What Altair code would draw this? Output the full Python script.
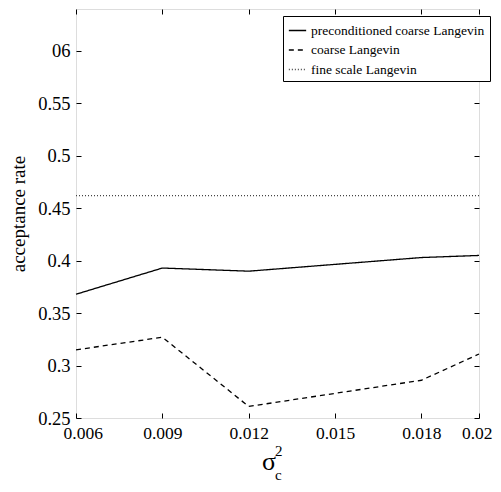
import altair as alt
import pandas as pd

x_vals = [0.006, 0.009, 0.012, 0.018, 0.02]
precond = [0.368, 0.393, 0.390, 0.403, 0.405]
coarse = [0.315, 0.327, 0.261, 0.286, 0.311]
fine = [0.462, 0.462, 0.462, 0.462, 0.462]
series_names = ["preconditioned coarse Langevin", "coarse Langevin", "fine scale Langevin"]
x_ticks = [0.006, 0.009, 0.012, 0.015, 0.018, 0.02]
y_ticks = [0.25, 0.3, 0.35, 0.4, 0.45, 0.5, 0.55, 0.6]

rows = []
for name, vals in zip(series_names, [precond, coarse, fine]):
    for xv, yv in zip(x_vals, vals):
        rows.append({"x": xv, "y": yv, "series": name})
df = pd.DataFrame(rows)

FONT = "'Liberation Serif', 'Times New Roman', 'DejaVu Serif', serif"
W, H = 403, 409

xs = alt.Scale(domain=[0.006, 0.02], nice=False, zero=False)
ys = alt.Scale(domain=[0.25, 0.64], nice=False, zero=False)

legend = alt.Legend(
    title=None, orient="none", legendX=207, legendY=7,
    symbolType="stroke", symbolSize=300, symbolStrokeWidth=1.3,
    labelFont=FONT, labelFontSize=13.5, labelColor="black", labelLimit=300,
    labelOffset=4, rowPadding=3.5, padding=5,
    strokeColor="black", fillColor="white", cornerRadius=0,
)

lines = alt.Chart(df).mark_line(strokeWidth=1.3).encode(
    x=alt.X("x:Q", scale=xs, axis=alt.Axis(
        values=x_ticks, format="~g", title=None, domain=False, grid=False,
        offset=-5, tickSize=5, tickColor="black", tickWidth=1,
        labelFont=FONT, labelFontSize=17.5, labelColor="black",
        labelPadding=6, labelFlush=True, labelFlushOffset=13)),
    y=alt.Y("y:Q", scale=ys, axis=alt.Axis(
        values=y_ticks, title="acceptance rate", domain=False, grid=False,
        labelExpr="datum.value == 0.6 ? '06' : format(datum.value, '~g')",
        offset=-5, tickSize=5, tickColor="black", tickWidth=1,
        labelFont=FONT, labelFontSize=18.5, labelColor="black",
        labelPadding=6, titleFont=FONT, titleFontSize=19,
        titleFontWeight="normal", titleColor="black", titlePadding=9)),
    color=alt.Color("series:N", sort=series_names,
                    scale=alt.Scale(domain=series_names, range=["black", "black", "#444"]),
                    legend=legend),
    strokeDash=alt.StrokeDash("series:N", sort=series_names,
                              scale=alt.Scale(domain=series_names, range=[[1, 0], [5, 4], [1, 2]]),
                              legend=legend),
    order=alt.Order("x:Q"),
)

sec = alt.Chart(df).mark_point(opacity=0).encode(
    x=alt.X("x:Q", scale=xs, axis=alt.Axis(
        orient="top", values=x_ticks, labels=False, title=None, domain=False,
        grid=False, offset=-5, tickSize=5, tickColor="black")),
    y=alt.Y("y:Q", scale=ys, axis=alt.Axis(
        orient="right", values=y_ticks, labels=False, title=None, domain=False,
        grid=False, offset=-5, tickSize=5, tickColor="black")),
)

sig = alt.Chart(pd.DataFrame({"t": ["σ"]})).mark_text(
    font=FONT, fontSize=26, align="left", baseline="alphabetic", color="black"
).encode(x=alt.value(186), y=alt.value(461), text="t:N")
sup = alt.Chart(pd.DataFrame({"t": ["2"]})).mark_text(
    font=FONT, fontSize=15, align="left", baseline="alphabetic", color="black"
).encode(x=alt.value(199), y=alt.value(447), text="t:N")
sub = alt.Chart(pd.DataFrame({"t": ["c"]})).mark_text(
    font=FONT, fontSize=15, align="left", baseline="alphabetic", color="black"
).encode(x=alt.value(199), y=alt.value(471), text="t:N")

chart = alt.layer(lines, sec, sig, sup, sub).resolve_scale(
    x="independent", y="independent"
).properties(
    width=W, height=H,
    padding={"left": 68, "top": 1, "right": 14, "bottom": 66},
    autosize=alt.AutoSizeParams(type="none"),
).configure_view(stroke="black", strokeWidth=1.5).configure(background="white")

chart.save("out.html", embed_options={"renderer": "svg", "actions": False})
